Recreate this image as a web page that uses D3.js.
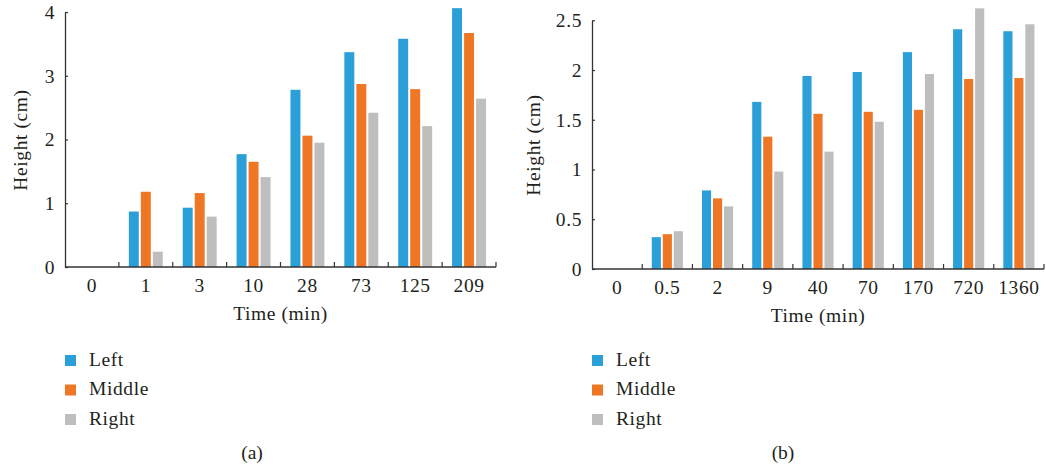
<!DOCTYPE html>
<html>
<head>
<meta charset="utf-8">
<script src="https://cdn.jsdelivr.net/npm/d3@7"></script>
<style>
  html, body { margin: 0; padding: 0; background: #fff; }
  svg { display: block; }
  text { font-family: "Liberation Serif", "Times New Roman", serif; fill: #231f20; }
</style>
</head>
<body>
<svg id="chart" width="1046" height="470"></svg>
<script>
// ---- data ----
const seriesNames = ["Left", "Middle", "Right"];
const seriesColors = ["#2a9fd8", "#ef7625", "#bebebe"];

const timesA = ["0", "1", "3", "10", "28", "73", "125", "209"];
const leftA = [0, 0.87, 0.93, 1.77, 2.78, 3.37, 3.58, 4.06];
const middleA = [0, 1.18, 1.16, 1.65, 2.06, 2.87, 2.79, 3.67];
const rightA = [0, 0.24, 0.79, 1.41, 1.95, 2.42, 2.21, 2.64];
const yTicksA = [0, 1, 2, 3, 4];

const timesB = ["0", "0.5", "2", "9", "40", "70", "170", "720", "1360"];
const leftB = [0, 0.32, 0.79, 1.68, 1.94, 1.98, 2.18, 2.41, 2.39];
const middleB = [0, 0.35, 0.71, 1.33, 1.56, 1.58, 1.60, 1.91, 1.92];
const rightB = [0, 0.38, 0.63, 0.98, 1.18, 1.48, 1.96, 2.62, 2.46];
const yTicksB = [0, 0.5, 1, 1.5, 2, 2.5];

const xTitle = "Time (min)";
const yTitle = "Height (cm)";

// ---- drawing ----
const svg = d3.select("#chart");
const FS = 19.5;
const LS = "0.6px";
const axisColor = "#333";

function drawPanel(cfg) {
  const g = svg.append("g");
  const x = d3.scaleBand().domain(cfg.times).range([cfg.x0, cfg.x1])
    .paddingInner(cfg.pad).paddingOuter(cfg.pad / 2);
  const xs = d3.scaleBand().domain(seriesNames).range([0, x.bandwidth()]).paddingInner(0.17);
  const y = d3.scaleLinear().domain([0, cfg.yMax]).range([cfg.y0, cfg.yTop]);
  const step = (cfg.x1 - cfg.x0) / cfg.times.length;

  // bars
  const series = [cfg.left, cfg.middle, cfg.right];
  series.forEach((vals, si) => {
    g.append("g").selectAll("rect")
      .data(vals.map((v, i) => ({ t: cfg.times[i], v })).filter(d => d.v > 0))
      .join("rect")
      .attr("x", d => x(d.t) + xs(seriesNames[si]))
      .attr("width", xs.bandwidth())
      .attr("y", d => y(d.v))
      .attr("height", d => y(0) - y(d.v))
      .attr("fill", seriesColors[si]);
  });

  // y axis
  const ya = g.append("g").attr("transform", `translate(${cfg.x0},0)`)
    .call(d3.axisLeft(y).tickValues(cfg.yTicks).tickSizeInner(-3).tickSizeOuter(0)
      .tickPadding(10).tickFormat(d => String(d)));
  ya.select(".domain").attr("stroke", axisColor).attr("stroke-width", 1.3);
  ya.selectAll(".tick line").attr("stroke", axisColor).attr("stroke-width", 1.2);
  ya.selectAll("text").attr("font-family", null).attr("font-size", FS)
    .style("letter-spacing", LS).attr("fill", "#231f20");
  ya.attr("font-family", null).attr("font-size", null);

  // x axis labels
  const xa = g.append("g").attr("transform", `translate(0,${cfg.y0})`)
    .call(d3.axisBottom(x).tickSize(0).tickPadding(11.2));
  xa.select(".domain").remove();
  xa.selectAll("text").attr("font-size", FS).style("letter-spacing", LS).attr("fill", "#231f20");
  xa.attr("font-family", null).attr("font-size", null);

  // x axis line and boundary ticks
  g.append("line").attr("x1", cfg.x0).attr("x2", cfg.x1)
    .attr("y1", cfg.y0).attr("y2", cfg.y0)
    .attr("stroke", axisColor).attr("stroke-width", 1.3);
  g.append("g").selectAll("line")
    .data(d3.range(1, cfg.times.length + 1))
    .join("line")
    .attr("x1", i => cfg.x0 + i * step).attr("x2", i => cfg.x0 + i * step)
    .attr("y1", cfg.y0).attr("y2", cfg.y0 - 5)
    .attr("stroke", axisColor).attr("stroke-width", 1.2);

  // titles
  g.append("text").attr("x", (cfg.x0 + cfg.x1) / 2).attr("y", cfg.y0 + 53)
    .attr("text-anchor", "middle").attr("font-size", FS).style("letter-spacing", LS)
    .text(xTitle);
  g.append("text")
    .attr("transform", `translate(${cfg.yLabelX},${cfg.yLabelY}) rotate(-90)`)
    .attr("text-anchor", "middle").attr("font-size", FS).style("letter-spacing", LS)
    .text(yTitle);

  // legend
  const lg = g.append("g").attr("transform", `translate(${cfg.legendX},355)`);
  seriesNames.forEach((name, i) => {
    lg.append("rect").attr("x", 0).attr("y", i * 29.5).attr("width", 11).attr("height", 11)
      .attr("fill", seriesColors[i]);
    lg.append("text").attr("x", 24).attr("y", i * 29.5 + 10.5)
      .attr("font-size", FS).style("letter-spacing", LS).text(name);
  });

  // panel label
  g.append("text").attr("x", cfg.labelX).attr("y", 459)
    .attr("text-anchor", "middle").attr("font-size", FS).text(cfg.label);
}

drawPanel({
  times: timesA, left: leftA, middle: middleA, right: rightA, yTicks: yTicksA,
  x0: 65, x1: 496, y0: 267, yTop: 12, yMax: 4, pad: 0.37,
  yLabelX: 27, yLabelY: 140, legendX: 65, labelX: 252, label: "(a)"
});

drawPanel({
  times: timesB, left: leftB, middle: middleB, right: rightB, yTicks: yTicksB,
  x0: 592, x1: 1044, y0: 269, yTop: 20.3, yMax: 2.5, pad: 0.38,
  yLabelX: 540, yLabelY: 145, legendX: 592, labelX: 783, label: "(b)"
});
</script>
</body>
</html>
